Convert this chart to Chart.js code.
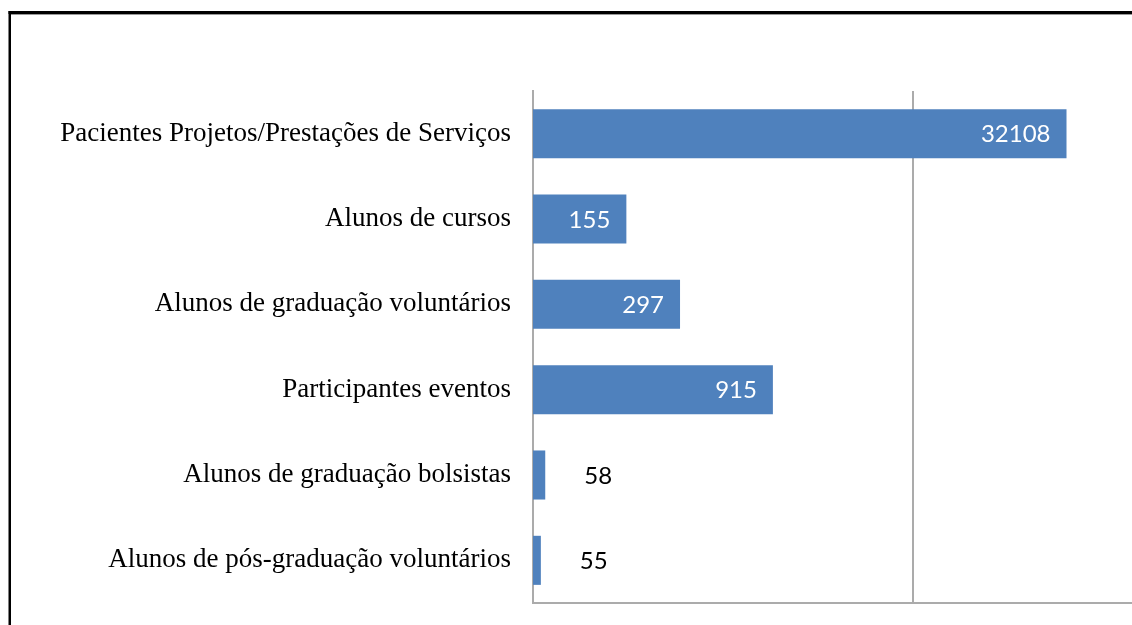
<!DOCTYPE html>
<html>
<head>
<meta charset="utf-8">
<script src="https://cdn.jsdelivr.net/npm/chart.js@4"></script>
<style>
html,body{margin:0;padding:0;background:#fff;}
#wrap{width:1132px;height:625px;position:relative;}
</style>
</head>
<body>
<div id="wrap"><canvas id="c" width="1132" height="625"></canvas></div>
<script>
const categories = [
  "Pacientes Projetos/Prestações de Serviços",
  "Alunos de cursos",
  "Alunos de graduação voluntários",
  "Participantes eventos",
  "Alunos de graduação bolsistas",
  "Alunos de pós-graduação voluntários"
];
const values = [32108, 155, 297, 915, 58, 55];
const gridValues = [5000];
const axisMin = 50;
const axisMax = 71000;

const frame = {
  id: 'frame',
  afterDraw(chart) {
    const ctx = chart.ctx;
    ctx.save();
    ctx.fillStyle = '#000';
    ctx.fillRect(8.5, 11, 1132, 3);
    ctx.fillStyle = '#9a9a9a';
    ctx.fillRect(11, 14, 1132, 1);
    ctx.fillStyle = '#000';
    ctx.fillRect(8.5, 11, 2.5, 625);
    ctx.restore();
  }
};

const labels = {
  id: 'valueLabels',
  afterDatasetsDraw(chart) {
    const ctx = chart.ctx;
    const meta = chart.getDatasetMeta(0);
    ctx.save();
    ctx.font = '24px Lato, "Open Sans", sans-serif';
    ctx.textBaseline = 'middle';
    meta.data.forEach((bar, i) => {
      const v = values[i];
      const w = bar.x - bar.base;
      if (w > 50) {
        ctx.fillStyle = '#fff';
        ctx.textAlign = 'right';
        ctx.fillText(String(v), bar.x - 16, bar.y + 1);
      } else {
        ctx.fillStyle = '#000';
        ctx.textAlign = 'left';
        ctx.fillText(String(v), bar.x + 39, bar.y + 1);
      }
    });
    ctx.restore();
  }
};

new Chart(document.getElementById('c'), {
  type: 'bar',
  data: {
    labels: categories,
    datasets: [{
      data: values,
      backgroundColor: '#4f81bd',
      borderWidth: 0,
      barPercentage: 0.575,
      categoryPercentage: 1.0
    }]
  },
  plugins: [frame, labels],
  options: {
    indexAxis: 'y',
    responsive: false,
    animation: false,
    layout: { padding: { top: 91, bottom: 22, left: 0, right: 0 } },
    plugins: { legend: { display: false }, tooltip: { enabled: false } },
    scales: {
      x: {
        type: 'logarithmic',
        min: axisMin,
        max: axisMax,
        afterBuildTicks(scale) { scale.ticks = gridValues.map(v => ({ value: v })); },
        afterFit(scale) { scale.height = 0; scale.paddingLeft = 0; scale.paddingRight = 0; },
        ticks: { display: false, padding: 0 },
        grid: { color: '#ababab', lineWidth: 2, drawTicks: false },
        border: { color: '#ababab', width: 2 }
      },
      y: {
        afterFit(scale) { scale.width = 533; scale.paddingTop = 0; scale.paddingBottom = 0; },
        ticks: {
          color: '#000',
          padding: 22,
          font: { family: '"Liberation Serif", "Times New Roman", serif', size: 27 }
        },
        grid: { display: false, drawTicks: false },
        border: { color: '#ababab', width: 2 }
      }
    }
  }
});
</script>
</body>
</html>
